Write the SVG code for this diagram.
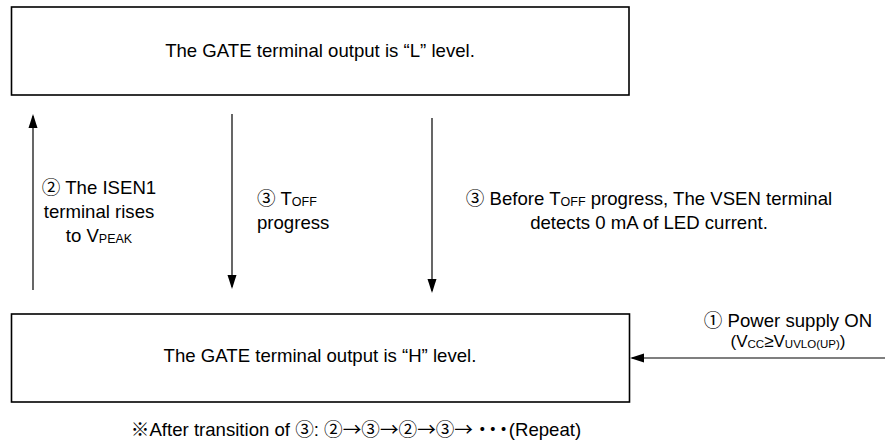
<svg xmlns="http://www.w3.org/2000/svg" width="885" height="446" viewBox="0 0 885 446">
<style>
text { font-family: "Liberation Sans", Arial, "Noto Sans CJK JP", sans-serif; font-size: 18.6px; fill: #000; }
.box { fill: #fff; stroke: #000; stroke-width: 1.6; }
.conn { stroke: #000; stroke-width: 1.2; fill: none; marker-end: url(#arr); }
.sub { font-size: 12.5px; }
.mid { text-anchor: middle; }
.cjk { font-family: "Noto Sans CJK JP", sans-serif; }
.dots { font-family: "Noto Sans CJK JP", sans-serif; letter-spacing: -8px; }
</style>
<defs>
<marker id="arr" markerUnits="userSpaceOnUse" markerWidth="15" markerHeight="10" refX="12" refY="5" orient="auto" viewBox="0 0 15 10">
<path d="M0,0.5 L14,5 L0,9.5 z" fill="#000"/>
</marker>
</defs>

<g id="state-L">
<rect class="box" x="11.5" y="7" width="617.5" height="88"/>
<text class="mid" x="320" y="57">The GATE terminal output is “L” level.</text>
</g>

<g id="state-H">
<rect class="box" x="11.5" y="314" width="618" height="88"/>
<text class="mid" x="320" y="362">The GATE terminal output is “H” level.</text>
</g>

<g id="connectors">
<g id="c-rise">
<line class="conn" x1="33" y1="290" x2="33" y2="116"/>
<text class="mid" x="99" y="194">② The ISEN1</text>
<text class="mid" x="99" y="218">terminal rises</text>
<text class="mid" x="99" y="242">to V<tspan class="sub" dy="1">PEAK</tspan></text>
</g>
<g id="c-toff">
<line class="conn" x1="232" y1="114" x2="232" y2="287"/>
<text x="257" y="205">③ T<tspan class="sub" dy="1">OFF</tspan></text>
<text x="257" y="229">progress</text>
</g>
<g id="c-vsen">
<line class="conn" x1="432" y1="118" x2="432" y2="291"/>
<text class="mid" x="649" y="205">③ Before T<tspan class="sub" dy="1">OFF</tspan><tspan dy="-1"> progress, The VSEN terminal</tspan></text>
<text class="mid" x="649" y="229">detects 0 mA of LED current.</text>
</g>
<g id="c-power">
<line class="conn" x1="885" y1="358" x2="632" y2="358"/>
<text class="mid" x="788" y="327">① Power supply ON</text>
<text class="mid" x="788" y="347" style="font-size:17px">(V<tspan class="sub" style="font-size:11.5px" dy="1">CC</tspan><tspan dy="-1">≥V</tspan><tspan class="sub" style="font-size:11.5px" dy="1">UVLO(UP)</tspan><tspan dy="-1">)</tspan></text>
</g>
</g>

<text class="mid" x="356" y="436">※After transition of ③: ②<tspan class="cjk">→</tspan>③<tspan class="cjk">→</tspan>②<tspan class="cjk">→</tspan>③<tspan class="cjk">→</tspan><tspan class="dots">・・</tspan><tspan class="cjk" style="letter-spacing:-4px">・</tspan>(Repeat)</text>
</svg>
